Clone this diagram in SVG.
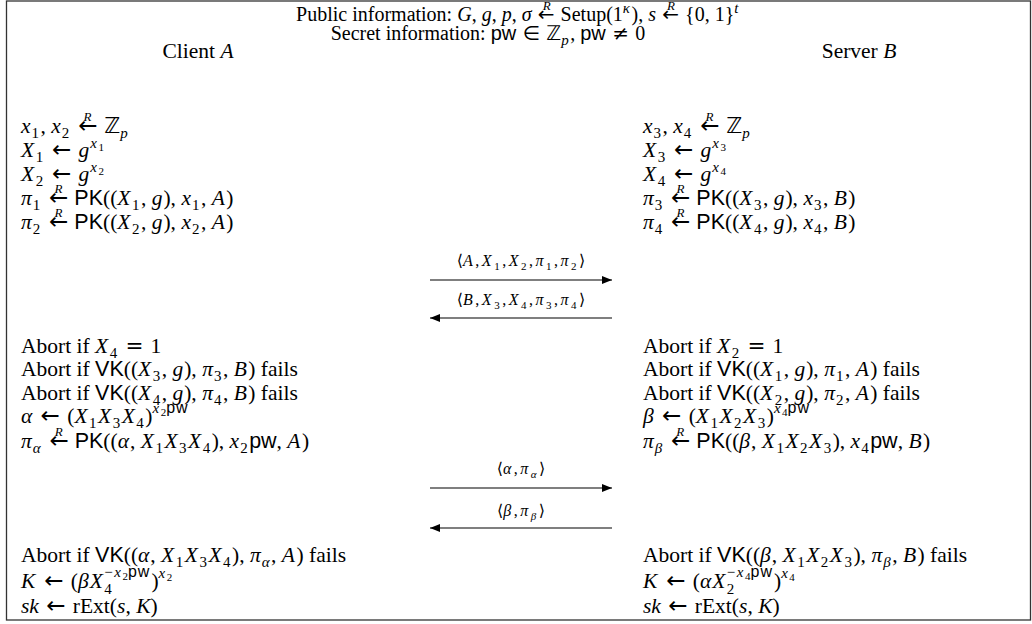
<svg xmlns="http://www.w3.org/2000/svg" width="1032" height="624" viewBox="0 0 1032 624">
<style>
text { font-family: "Liberation Serif", "DejaVu Serif", serif; font-size: 21.5px; fill: #000; }
.hd { font-size: 20px; }
.h { font-style: italic; }
.m { font-style: italic; letter-spacing: 1px; }
.X { font-style: italic; letter-spacing: 1.5px; }
.sf { font-family: "Liberation Sans", "DejaVu Sans", sans-serif; font-style: normal; letter-spacing: 0; }
.bb { font-family: "DejaVu Sans", sans-serif; font-style: normal; }
.y { font-family: "DejaVu Sans", sans-serif; font-style: normal; letter-spacing: 0; }
.a { font-family: "DejaVu Sans", sans-serif; font-style: normal; font-size: 23px; letter-spacing: 0; }
.b { font-size: 15px; letter-spacing: 1.5px; }
.c { font-size: 11px; }
.p { font-family: "Liberation Sans", sans-serif; font-size: 16px; font-style: normal; letter-spacing: 1px; }
.R { font-size: 13px; font-style: italic; letter-spacing: 0; }
.lbl { font-size: 16px; letter-spacing: 2.5px; }
.d { font-size: 11px; }
.frame { fill: none; stroke: #333; stroke-width: 1.3; }
.msg { stroke: #000; stroke-width: 1.2; fill: none; }
</style>
<defs>
<marker id="ah" markerUnits="userSpaceOnUse" markerWidth="11" markerHeight="8" refX="10" refY="4" orient="auto">
<path d="M0,0 L10,4 L0,8 Z" fill="#000"/>
</marker>
</defs>
<rect class="frame" x="6.5" y="1" width="1024" height="619"/>
<g id="header">
<text class="hd" x="518" y="21" text-anchor="middle">Public information: <tspan class="h">G</tspan>, <tspan class="h">g</tspan>, <tspan class="h">p</tspan>, <tspan class="h">σ</tspan><tspan class="y"> ←</tspan><tspan class="R" dx="-12" dy="-11">R</tspan><tspan dx="5" dy="11"> Setup(1</tspan><tspan class="b h" dy="-8">κ</tspan><tspan dy="8">), </tspan><tspan class="h">s</tspan><tspan class="y"> ←</tspan><tspan class="R" dx="-12" dy="-11">R</tspan><tspan dx="5" dy="11"> {0, 1}</tspan><tspan class="b h" dy="-8">t</tspan></text>
<text class="hd" x="488" y="40" text-anchor="middle">Secret information: <tspan class="sf">pw</tspan><tspan class="y"> ∈ </tspan><tspan class="bb">ℤ</tspan><tspan class="b h" dy="5">p</tspan><tspan dy="-5">, </tspan><tspan class="sf">pw</tspan><tspan class="y"> ≠ </tspan>0</text>
</g>
<g id="client">
<text x="198" y="58" text-anchor="middle">Client <tspan class="h">A</tspan></text>
<text x="21" y="133"><tspan class="m">x</tspan><tspan class="b" dy="5">1</tspan><tspan dy="-5">, </tspan><tspan class="m">x</tspan><tspan class="b" dy="5">2</tspan><tspan class="a" dy="-5"> ←</tspan><tspan class="R" dx="-14" dy="-12">R</tspan><tspan class="bb" dx="6" dy="12"> ℤ</tspan><tspan class="b h" dy="5">p</tspan></text>
<text x="21" y="157"><tspan class="X">X</tspan><tspan class="b" dy="5">1</tspan><tspan class="a" dy="-5"> ← </tspan><tspan class="m">g</tspan><tspan class="b m" dy="-9">x</tspan><tspan class="c" dy="3">1</tspan></text>
<text x="21" y="181"><tspan class="X">X</tspan><tspan class="b" dy="5">2</tspan><tspan class="a" dy="-5"> ← </tspan><tspan class="m">g</tspan><tspan class="b m" dy="-9">x</tspan><tspan class="c" dy="3">2</tspan></text>
<text x="21" y="205"><tspan class="m">π</tspan><tspan class="b" dy="5">1</tspan><tspan class="a" dy="-5"> ←</tspan><tspan class="R" dx="-14" dy="-12">R</tspan><tspan class="sf" dx="6" dy="12"> PK</tspan>((<tspan class="X">X</tspan><tspan class="b" dy="5">1</tspan><tspan dy="-5">, </tspan><tspan class="m">g</tspan>), <tspan class="m">x</tspan><tspan class="b" dy="5">1</tspan><tspan dy="-5">, </tspan><tspan class="X">A</tspan>)</text>
<text x="21" y="229"><tspan class="m">π</tspan><tspan class="b" dy="5">2</tspan><tspan class="a" dy="-5"> ←</tspan><tspan class="R" dx="-14" dy="-12">R</tspan><tspan class="sf" dx="6" dy="12"> PK</tspan>((<tspan class="X">X</tspan><tspan class="b" dy="5">2</tspan><tspan dy="-5">, </tspan><tspan class="m">g</tspan>), <tspan class="m">x</tspan><tspan class="b" dy="5">2</tspan><tspan dy="-5">, </tspan><tspan class="X">A</tspan>)</text>
<text x="21" y="353">Abort if <tspan class="X">X</tspan><tspan class="b" dy="5">4</tspan><tspan class="y" dy="-5"> = </tspan>1</text>
<text x="21" y="376">Abort if <tspan class="sf">VK</tspan>((<tspan class="X">X</tspan><tspan class="b" dy="5">3</tspan><tspan dy="-5">, </tspan><tspan class="m">g</tspan>), <tspan class="m">π</tspan><tspan class="b" dy="5">3</tspan><tspan dy="-5">, </tspan><tspan class="X">B</tspan>) fails</text>
<text x="21" y="400">Abort if <tspan class="sf">VK</tspan>((<tspan class="X">X</tspan><tspan class="b" dy="5">4</tspan><tspan dy="-5">, </tspan><tspan class="m">g</tspan>), <tspan class="m">π</tspan><tspan class="b" dy="5">4</tspan><tspan dy="-5">, </tspan><tspan class="X">B</tspan>) fails</text>
<text x="21" y="423"><tspan class="m">α</tspan><tspan class="a"> ← </tspan>(<tspan class="X">X</tspan><tspan class="b" dy="5">1</tspan><tspan class="X" dy="-5">X</tspan><tspan class="b" dy="5">3</tspan><tspan class="X" dy="-5">X</tspan><tspan class="b" dy="5">4</tspan><tspan dy="-5">)</tspan><tspan class="b m" dy="-10">x</tspan><tspan class="c" dy="3">2</tspan><tspan class="p" dy="-3">pw</tspan></text>
<text x="21" y="448"><tspan class="m">π</tspan><tspan class="b m" dy="5">α</tspan><tspan class="a" dy="-5"> ←</tspan><tspan class="R" dx="-14" dy="-12">R</tspan><tspan class="sf" dx="6" dy="12"> PK</tspan>((<tspan class="m">α</tspan>, <tspan class="X">X</tspan><tspan class="b" dy="5">1</tspan><tspan class="X" dy="-5">X</tspan><tspan class="b" dy="5">3</tspan><tspan class="X" dy="-5">X</tspan><tspan class="b" dy="5">4</tspan><tspan dy="-5">), </tspan><tspan class="m">x</tspan><tspan class="b" dy="5">2</tspan><tspan class="sf" dy="-5">pw</tspan>, <tspan class="X">A</tspan>)</text>
<text x="21" y="562">Abort if <tspan class="sf">VK</tspan>((<tspan class="m">α</tspan>, <tspan class="X">X</tspan><tspan class="b" dy="5">1</tspan><tspan class="X" dy="-5">X</tspan><tspan class="b" dy="5">3</tspan><tspan class="X" dy="-5">X</tspan><tspan class="b" dy="5">4</tspan><tspan dy="-5">), </tspan><tspan class="m">π</tspan><tspan class="b m" dy="5">α</tspan><tspan dy="-5">, </tspan><tspan class="X">A</tspan>) fails</text>
<text x="21" y="588"><tspan class="X">K</tspan><tspan class="a"> ← </tspan>(<tspan class="m">β</tspan><tspan class="X">X</tspan><tspan class="b" dy="6">4</tspan><tspan class="b" dx="-9" dy="-17">−</tspan><tspan class="b m">x</tspan><tspan class="c" dy="3">2</tspan><tspan class="p" dy="-3">pw</tspan><tspan dx="1" dy="11">)</tspan><tspan class="b m" dy="-10">x</tspan><tspan class="c" dy="3">2</tspan></text>
<text x="21" y="613"><tspan class="h">sk</tspan><tspan class="a"> ← </tspan>rExt(<tspan class="h">s</tspan>, <tspan class="h">K</tspan>)</text>
</g>
<g id="server">
<text x="859" y="58" text-anchor="middle">Server <tspan class="h">B</tspan></text>
<text x="643" y="133"><tspan class="m">x</tspan><tspan class="b" dy="5">3</tspan><tspan dy="-5">, </tspan><tspan class="m">x</tspan><tspan class="b" dy="5">4</tspan><tspan class="a" dy="-5"> ←</tspan><tspan class="R" dx="-14" dy="-12">R</tspan><tspan class="bb" dx="6" dy="12"> ℤ</tspan><tspan class="b h" dy="5">p</tspan></text>
<text x="643" y="157"><tspan class="X">X</tspan><tspan class="b" dy="5">3</tspan><tspan class="a" dy="-5"> ← </tspan><tspan class="m">g</tspan><tspan class="b m" dy="-9">x</tspan><tspan class="c" dy="3">3</tspan></text>
<text x="643" y="181"><tspan class="X">X</tspan><tspan class="b" dy="5">4</tspan><tspan class="a" dy="-5"> ← </tspan><tspan class="m">g</tspan><tspan class="b m" dy="-9">x</tspan><tspan class="c" dy="3">4</tspan></text>
<text x="643" y="205"><tspan class="m">π</tspan><tspan class="b" dy="5">3</tspan><tspan class="a" dy="-5"> ←</tspan><tspan class="R" dx="-14" dy="-12">R</tspan><tspan class="sf" dx="6" dy="12"> PK</tspan>((<tspan class="X">X</tspan><tspan class="b" dy="5">3</tspan><tspan dy="-5">, </tspan><tspan class="m">g</tspan>), <tspan class="m">x</tspan><tspan class="b" dy="5">3</tspan><tspan dy="-5">, </tspan><tspan class="X">B</tspan>)</text>
<text x="643" y="229"><tspan class="m">π</tspan><tspan class="b" dy="5">4</tspan><tspan class="a" dy="-5"> ←</tspan><tspan class="R" dx="-14" dy="-12">R</tspan><tspan class="sf" dx="6" dy="12"> PK</tspan>((<tspan class="X">X</tspan><tspan class="b" dy="5">4</tspan><tspan dy="-5">, </tspan><tspan class="m">g</tspan>), <tspan class="m">x</tspan><tspan class="b" dy="5">4</tspan><tspan dy="-5">, </tspan><tspan class="X">B</tspan>)</text>
<text x="643" y="353">Abort if <tspan class="X">X</tspan><tspan class="b" dy="5">2</tspan><tspan class="y" dy="-5"> = </tspan>1</text>
<text x="643" y="376">Abort if <tspan class="sf">VK</tspan>((<tspan class="X">X</tspan><tspan class="b" dy="5">1</tspan><tspan dy="-5">, </tspan><tspan class="m">g</tspan>), <tspan class="m">π</tspan><tspan class="b" dy="5">1</tspan><tspan dy="-5">, </tspan><tspan class="X">A</tspan>) fails</text>
<text x="643" y="400">Abort if <tspan class="sf">VK</tspan>((<tspan class="X">X</tspan><tspan class="b" dy="5">2</tspan><tspan dy="-5">, </tspan><tspan class="m">g</tspan>), <tspan class="m">π</tspan><tspan class="b" dy="5">2</tspan><tspan dy="-5">, </tspan><tspan class="X">A</tspan>) fails</text>
<text x="643" y="423"><tspan class="m">β</tspan><tspan class="a"> ← </tspan>(<tspan class="X">X</tspan><tspan class="b" dy="5">1</tspan><tspan class="X" dy="-5">X</tspan><tspan class="b" dy="5">2</tspan><tspan class="X" dy="-5">X</tspan><tspan class="b" dy="5">3</tspan><tspan dy="-5">)</tspan><tspan class="b m" dy="-10">x</tspan><tspan class="c" dy="3">4</tspan><tspan class="p" dy="-3">pw</tspan></text>
<text x="643" y="448"><tspan class="m">π</tspan><tspan class="b m" dy="5">β</tspan><tspan class="a" dy="-5"> ←</tspan><tspan class="R" dx="-14" dy="-12">R</tspan><tspan class="sf" dx="6" dy="12"> PK</tspan>((<tspan class="m">β</tspan>, <tspan class="X">X</tspan><tspan class="b" dy="5">1</tspan><tspan class="X" dy="-5">X</tspan><tspan class="b" dy="5">2</tspan><tspan class="X" dy="-5">X</tspan><tspan class="b" dy="5">3</tspan><tspan dy="-5">), </tspan><tspan class="m">x</tspan><tspan class="b" dy="5">4</tspan><tspan class="sf" dy="-5">pw</tspan>, <tspan class="X">B</tspan>)</text>
<text x="643" y="562">Abort if <tspan class="sf">VK</tspan>((<tspan class="m">β</tspan>, <tspan class="X">X</tspan><tspan class="b" dy="5">1</tspan><tspan class="X" dy="-5">X</tspan><tspan class="b" dy="5">2</tspan><tspan class="X" dy="-5">X</tspan><tspan class="b" dy="5">3</tspan><tspan dy="-5">), </tspan><tspan class="m">π</tspan><tspan class="b m" dy="5">β</tspan><tspan dy="-5">, </tspan><tspan class="X">B</tspan>) fails</text>
<text x="643" y="588"><tspan class="X">K</tspan><tspan class="a"> ← </tspan>(<tspan class="m">α</tspan><tspan class="X">X</tspan><tspan class="b" dy="6">2</tspan><tspan class="b" dx="-9" dy="-17">−</tspan><tspan class="b m">x</tspan><tspan class="c" dy="3">4</tspan><tspan class="p" dy="-3">pw</tspan><tspan dx="1" dy="11">)</tspan><tspan class="b m" dy="-10">x</tspan><tspan class="c" dy="3">4</tspan></text>
<text x="643" y="613"><tspan class="h">sk</tspan><tspan class="a"> ← </tspan>rExt(<tspan class="h">s</tspan>, <tspan class="h">K</tspan>)</text>
</g>
<g id="connectors">
<line class="msg" x1="430" y1="280" x2="612" y2="280" marker-end="url(#ah)"/>
<line class="msg" x1="612" y1="318" x2="430" y2="318" marker-end="url(#ah)"/>
<line class="msg" x1="430" y1="488" x2="612" y2="488" marker-end="url(#ah)"/>
<line class="msg" x1="612" y1="528" x2="430" y2="528" marker-end="url(#ah)"/>
<text class="lbl" x="521" y="266" text-anchor="middle"><tspan class="y">⟨</tspan><tspan class="h">A</tspan>,<tspan class="h">X</tspan><tspan class="d" dy="4">1</tspan><tspan dy="-4">,</tspan><tspan class="h">X</tspan><tspan class="d" dy="4">2</tspan><tspan dy="-4">,</tspan><tspan class="h">π</tspan><tspan class="d" dy="4">1</tspan><tspan dy="-4">,</tspan><tspan class="h">π</tspan><tspan class="d" dy="4">2</tspan><tspan class="y" dy="-4">⟩</tspan></text>
<text class="lbl" x="521" y="305" text-anchor="middle"><tspan class="y">⟨</tspan><tspan class="h">B</tspan>,<tspan class="h">X</tspan><tspan class="d" dy="4">3</tspan><tspan dy="-4">,</tspan><tspan class="h">X</tspan><tspan class="d" dy="4">4</tspan><tspan dy="-4">,</tspan><tspan class="h">π</tspan><tspan class="d" dy="4">3</tspan><tspan dy="-4">,</tspan><tspan class="h">π</tspan><tspan class="d" dy="4">4</tspan><tspan class="y" dy="-4">⟩</tspan></text>
<text class="lbl" x="521" y="474" text-anchor="middle"><tspan class="y">⟨</tspan><tspan class="h">α</tspan>,<tspan class="h">π</tspan><tspan class="d h" dy="4">α</tspan><tspan class="y" dy="-4">⟩</tspan></text>
<text class="lbl" x="521" y="516" text-anchor="middle"><tspan class="y">⟨</tspan><tspan class="h">β</tspan>,<tspan class="h">π</tspan><tspan class="d h" dy="4">β</tspan><tspan class="y" dy="-4">⟩</tspan></text>
</g>
</svg>
